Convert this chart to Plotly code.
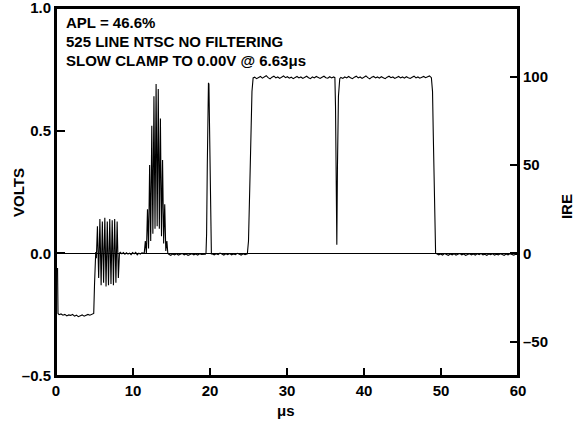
import plotly.graph_objects as go

# ---- waveform data (time in microseconds, level in volts) ----
sync_t = [0.20, 0.26, 0.40, 0.65, 0.90, 1.15, 1.40, 1.65, 1.90, 2.15, 2.40, 2.65, 2.90,
          3.15, 3.40, 3.65, 3.90, 4.15, 4.40, 4.65, 4.90]
sync_v = [-0.06, -0.245, -0.25, -0.247, -0.252, -0.249, -0.255, -0.251, -0.253, -0.249,
          -0.256, -0.252, -0.258, -0.255, -0.251, -0.256, -0.253, -0.249, -0.252, -0.25, -0.245]

rise1_t = [5.00, 5.08, 5.16]
rise1_v = [-0.13, -0.02, 0.005]

burst_t = [5.24, 5.38, 5.54, 5.70, 5.86, 6.02, 6.18, 6.34, 6.50, 6.66, 6.82, 6.98, 7.14,
           7.30, 7.46, 7.62, 7.78, 7.94, 8.10, 8.24]
burst_v = [-0.02, 0.11, -0.10, 0.14, -0.13, 0.13, -0.12, 0.145, -0.135, 0.13, -0.13, 0.14,
           -0.125, 0.135, -0.13, 0.14, -0.12, 0.13, -0.10, 0.0]

base1_t = [8.35, 8.55, 8.75, 8.95, 9.15, 9.35, 9.55, 9.75, 9.95, 10.15, 10.35, 10.55,
           10.75, 10.95, 11.15, 11.35]
base1_v = [0.004, -0.002, 0.003, -0.004, 0.002, -0.003, 0.001, -0.005, 0.003, -0.002,
           0.004, -0.006, 0.001, -0.003, 0.002, 0.0]

packet_t = [11.46, 11.60, 11.74, 11.88, 12.02, 12.16, 12.30, 12.44, 12.58, 12.72, 12.86,
            13.00, 13.14, 13.28, 13.42, 13.56, 13.70, 13.84, 13.98, 14.12, 14.26, 14.40, 14.52]
packet_v = [0.0, 0.05, 0.00, 0.18, 0.02, 0.36, 0.05, 0.52, 0.08, 0.64, 0.10,
            0.69, 0.11, 0.67, 0.10, 0.55, 0.07, 0.38, 0.04, 0.20, 0.01, 0.05, 0.0]

base2_t = [14.65, 14.90, 15.15, 15.40, 15.65, 15.90, 16.15, 16.40, 16.65, 16.90, 17.15,
           17.40, 17.65, 17.90, 18.15, 18.40, 18.65, 18.90, 19.15, 19.40]
base2_v = [-0.004, -0.008, -0.003, -0.006, -0.002, -0.007, -0.004, -0.001, -0.006, -0.003,
           -0.008, -0.004, -0.002, -0.006, -0.003, -0.007, -0.002, -0.005, -0.003, -0.004]

pulse_t = [19.48, 19.56, 19.65, 19.73, 19.80, 19.86, 19.93, 20.00, 20.08, 20.18]
pulse_v = [0.0, 0.08, 0.36, 0.60, 0.695, 0.69, 0.52, 0.25, 0.05, -0.003]

base3_t = [20.30, 20.55, 20.80, 21.05, 21.30, 21.55, 21.80, 22.05, 22.30, 22.55, 22.80,
           23.05, 23.30, 23.55, 23.80, 24.05, 24.30, 24.55, 24.85]
base3_v = [-0.003, -0.006, -0.002, -0.005, 0.001, -0.004, -0.007, -0.002, -0.005, -0.001,
           -0.006, -0.003, -0.005, 0.0, -0.004, -0.007, -0.002, -0.005, -0.002]

rise2_t = [25.00, 25.15, 25.30, 25.45, 25.60]
rise2_v = [0.05, 0.25, 0.47, 0.66, 0.715]

top1_t = [25.80, 26.05, 26.30, 26.55, 26.80, 27.05, 27.30, 27.55, 27.80, 28.05, 28.30,
          28.55, 28.80, 29.05, 29.30, 29.55, 29.80, 30.05, 30.30, 30.55, 30.80, 31.05,
          31.30, 31.55, 31.80, 32.05, 32.30, 32.55, 32.80, 33.05, 33.30, 33.55, 33.80,
          34.05, 34.30, 34.55, 34.80, 35.05, 35.30, 35.55, 35.80, 36.05, 36.22]
top1_v = [0.718, 0.712, 0.716, 0.721, 0.714, 0.719, 0.724, 0.716, 0.711, 0.718, 0.722,
          0.715, 0.719, 0.713, 0.717, 0.723, 0.716, 0.720, 0.714, 0.718, 0.712, 0.717,
          0.721, 0.715, 0.719, 0.713, 0.718, 0.722, 0.716, 0.712, 0.719, 0.715, 0.721,
          0.717, 0.713, 0.718, 0.722, 0.716, 0.714, 0.720, 0.715, 0.719, 0.716]

dip_t = [36.30, 36.37, 36.47, 36.55, 36.68, 36.85]
dip_v = [0.60, 0.32, 0.035, 0.35, 0.64, 0.712]

top2_t = [37.00, 37.25, 37.50, 37.75, 38.00, 38.25, 38.50, 38.75, 39.00, 39.25, 39.50,
          39.75, 40.00, 40.25, 40.50, 40.75, 41.00, 41.25, 41.50, 41.75, 42.00, 42.25,
          42.50, 42.75, 43.00, 43.25, 43.50, 43.75, 44.00, 44.25, 44.50, 44.75, 45.00,
          45.25, 45.50, 45.75, 46.00, 46.25, 46.50, 46.75, 47.00, 47.25, 47.50, 47.75,
          48.00, 48.25, 48.50, 48.75]
top2_v = [0.717, 0.713, 0.719, 0.715, 0.721, 0.716, 0.712, 0.718, 0.722, 0.715, 0.719,
          0.713, 0.717, 0.723, 0.716, 0.711, 0.718, 0.721, 0.715, 0.719, 0.714, 0.720,
          0.716, 0.712, 0.718, 0.722, 0.716, 0.719, 0.713, 0.717, 0.721, 0.715, 0.719,
          0.714, 0.720, 0.716, 0.713, 0.718, 0.722, 0.715, 0.719, 0.714, 0.717, 0.721,
          0.716, 0.719, 0.723, 0.716]

fall_t = [48.90, 49.00, 49.10, 49.20, 49.30]
fall_v = [0.66, 0.48, 0.28, 0.08, 0.0]

base4_t = [49.45, 49.70, 49.95, 50.20, 50.45, 50.70, 50.95, 51.20, 51.45, 51.70, 51.95,
           52.20, 52.45, 52.70, 52.95, 53.20, 53.45, 53.70, 53.95, 54.20, 54.45, 54.70,
           54.95, 55.20, 55.45, 55.70, 55.95, 56.20, 56.45, 56.70, 56.95, 57.20, 57.45,
           57.70, 57.95, 58.20, 58.45, 58.70, 58.95, 59.20, 59.45, 59.70, 60.00]
base4_v = [-0.002, -0.006, -0.003, -0.007, -0.001, -0.005, -0.008, -0.003, -0.006, -0.002,
           -0.007, -0.004, -0.001, -0.006, -0.003, -0.008, -0.004, -0.002, -0.006, -0.003,
           -0.007, -0.002, -0.005, -0.001, -0.006, -0.004, -0.008, -0.003, -0.005, -0.002,
           -0.007, -0.004, -0.006, -0.002, -0.005, -0.008, -0.003, -0.006, -0.002, -0.005,
           -0.007, -0.004, -0.006]

# tick labels
x_ticks = [0, 10, 20, 30, 40, 50, 60]
volt_ticks = [-0.5, 0.0, 0.5, 1.0]
volt_labels = ["–0.5", "0.0", "0.5", "1.0"]
ire_ticks = [-50, 0, 50, 100]
ire_labels = ["–50", "0", "50", "100"]
VOLTS_PER_IRE = 0.0072

notes = ["APL = 46.6%", "525 LINE NTSC NO FILTERING", "SLOW CLAMP TO 0.00V @ 6.63μs"]

segments = [(sync_t, sync_v), (rise1_t, rise1_v), (burst_t, burst_v), (base1_t, base1_v),
            (packet_t, packet_v), (base2_t, base2_v), (pulse_t, pulse_v), (base3_t, base3_v),
            (rise2_t, rise2_v), (top1_t, top1_v), (dip_t, dip_v), (top2_t, top2_v),
            (fall_t, fall_v), (base4_t, base4_v)]
t_all, v_all = [], []
for ts, vs in segments:
    assert len(ts) == len(vs)
    t_all += ts
    v_all += vs

FONT = "Liberation Sans, Arial, sans-serif"

fig = go.Figure()
fig.add_trace(go.Scatter(x=t_all, y=v_all, mode="lines",
                         line=dict(color="black", width=1.1), hoverinfo="skip",
                         showlegend=False, cliponaxis=False))
fig.add_trace(go.Scatter(x=[None], y=[None], yaxis="y2", mode="lines",
                         showlegend=False, hoverinfo="skip"))

tickfont = dict(family=FONT, size=15, color="black", weight="bold")

fig.update_layout(
    template="none",
    width=576, height=427,
    margin=dict(l=56, r=58, t=8, b=51, autoexpand=False),
    paper_bgcolor="white", plot_bgcolor="white",
    showlegend=False,
    xaxis=dict(range=[0, 60], tickvals=x_ticks, ticks="inside", ticklen=8, tickwidth=1.5,
               tickcolor="black", showline=True, linewidth=2, linecolor="black",
               mirror=True, showgrid=False, zeroline=False, tickfont=tickfont,
               automargin=False, ticklabeloverflow="allow"),
    yaxis=dict(range=[-0.5, 1.0], tickvals=volt_ticks, ticktext=volt_labels,
               ticks="inside", ticklen=9, tickwidth=1.5, tickcolor="black",
               showline=True, linewidth=2, linecolor="black", mirror=True,
               showgrid=False, zeroline=True, zerolinecolor="black", zerolinewidth=1,
               tickfont=tickfont, automargin=False, ticklabeloverflow="allow"),
    yaxis2=dict(overlaying="y", side="right", anchor="x",
                range=[-0.5 / VOLTS_PER_IRE, 1.0 / VOLTS_PER_IRE],
                tickvals=ire_ticks, ticktext=ire_labels, ticks="inside", ticklen=8,
                tickwidth=1.5, tickcolor="black", showline=True, linewidth=2,
                linecolor="black", showgrid=False, zeroline=False, tickfont=tickfont,
                automargin=False, ticklabeloverflow="allow"),
)

# plot frame
fig.add_shape(type="rect", xref="paper", yref="paper", x0=0, x1=1, y0=0, y1=1,
              line=dict(color="black", width=2), fillcolor="rgba(0,0,0,0)", layer="above")

annfont = dict(family=FONT, size=15, color="black", weight="bold")
for txt, yp in zip(notes, [0.96, 0.908, 0.856]):
    fig.add_annotation(text=txt, xref="paper", yref="paper", x=0.0175, y=yp,
                       xanchor="left", yanchor="middle", showarrow=False, font=annfont)

fig.add_annotation(text="VOLTS", xref="paper", yref="paper", x=-38 / 461.5, y=0.5,
                   xanchor="center", yanchor="middle", textangle=-90, showarrow=False,
                   font=annfont)
fig.add_annotation(text="IRE", xref="paper", yref="paper", x=1 + 48 / 461.5,
                   y=1 - (207 - 8) / 368, xanchor="center", yanchor="middle",
                   textangle=-90, showarrow=False, font=annfont)
fig.add_annotation(text="μs", xref="paper", yref="paper", x=0.497, y=-(410 - 376) / 368,
                   xanchor="center", yanchor="middle", showarrow=False, font=annfont)

fig.write_html(
    "out.html",
    config={"displayModeBar": False},
    post_script="document.body.style.margin='0';document.body.style.overflow='hidden';",
)
